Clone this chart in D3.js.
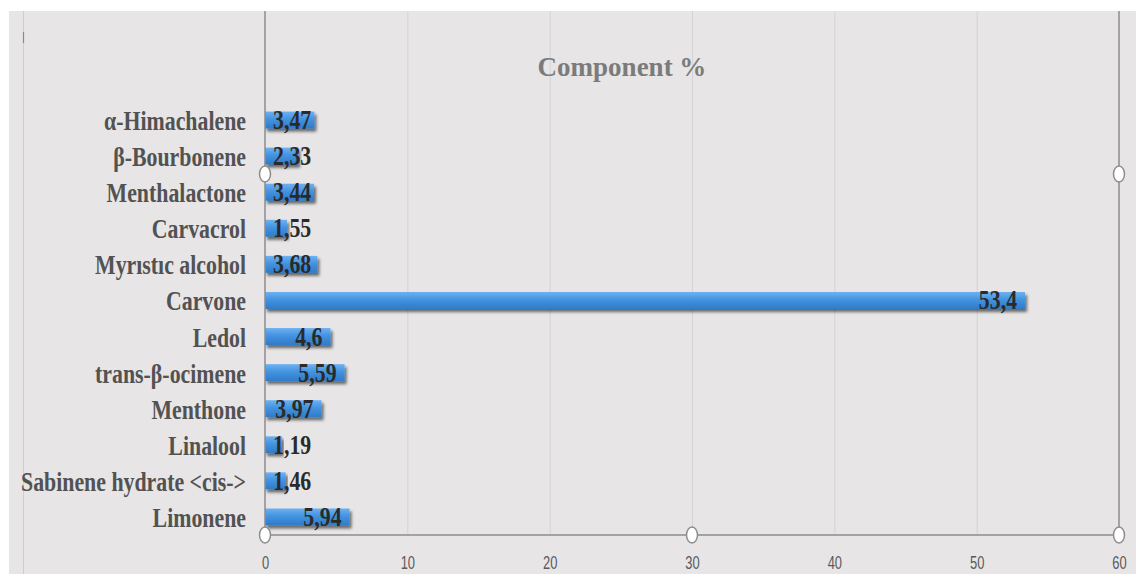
<!DOCTYPE html>
<html>
<head>
<meta charset="utf-8">
<script src="https://cdn.jsdelivr.net/npm/d3@7"></script>
<style>
  html, body { margin: 0; padding: 0; background: #ffffff; }
  svg { display: block; }
</style>
</head>
<body>
<svg id="chart" width="1136" height="574"></svg>
<script>
// ---- data (top to bottom as shown) ----
const categories = ["α-Himachalene", "β-Bourbonene", "Menthalactone", "Carvacrol", "Myrıstıc alcohol", "Carvone", "Ledol", "trans-β-ocimene", "Menthone", "Linalool", "Sabinene hydrate <cis->", "Limonene"];
const values = [3.47, 2.33, 3.44, 1.55, 3.68, 53.4, 4.6, 5.59, 3.97, 1.19, 1.46, 5.94];
const xTicks = [0, 10, 20, 30, 40, 50, 60];
const title = "Component %";

const rows = categories.map((c, i) => ({ name: c, value: values[i] }));

const svg = d3.select("#chart");
const W = 1136, H = 574;

// background
svg.append("rect").attr("x", 0).attr("y", 0).attr("width", W).attr("height", H).attr("fill", "#ffffff");
svg.append("rect").attr("x", 9).attr("y", 11).attr("width", W - 9).attr("height", H - 11).attr("fill", "#e7e5e6");
// faint left border line
svg.append("line").attr("x1", 23.5).attr("x2", 23.5).attr("y1", 11).attr("y2", H).attr("stroke", "#cfcdce").attr("stroke-width", 1);
svg.append("line").attr("x1", 23.5).attr("x2", 23.5).attr("y1", 32).attr("y2", 43).attr("stroke", "#8a8a8a").attr("stroke-width", 1.2);

const plotTop = 11, plotBottom = 535, left = 265, right = 1119;

const x = d3.scaleLinear().domain([0, 60]).range([left, right]);
const y = d3.scaleBand().domain(categories).range([102, plotBottom]).paddingInner(0.5).paddingOuter(0.25);

const defs = svg.append("defs");
const grad = defs.append("linearGradient").attr("id", "barGrad").attr("x1", 0).attr("y1", 0).attr("x2", 0).attr("y2", 1);
grad.append("stop").attr("offset", "0%").attr("stop-color", "#6fb1f0");
grad.append("stop").attr("offset", "45%").attr("stop-color", "#4393e0");
grad.append("stop").attr("offset", "100%").attr("stop-color", "#2f7bc8");
const f = defs.append("filter").attr("id", "shadow").attr("x", "-5%").attr("y", "-50%").attr("width", "115%").attr("height", "220%");
f.append("feDropShadow").attr("dx", 2).attr("dy", 3).attr("stdDeviation", 1.8).attr("flood-color", "#000").attr("flood-opacity", 0.55);

// gridlines
svg.append("g").selectAll("line").data(xTicks.filter(t => t > 0 && t < 60)).join("line")
  .attr("x1", d => x(d) + 0.5).attr("x2", d => x(d) + 0.5)
  .attr("y1", plotTop).attr("y2", plotBottom)
  .attr("stroke", "#d5d3d4").attr("stroke-width", 1);

// title
svg.append("text").attr("x", 622).attr("y", 76).attr("text-anchor", "middle")
  .attr("font-family", "'Liberation Serif', 'Times New Roman', serif").attr("font-weight", "bold")
  .attr("font-size", 27).attr("fill", "#7b7b7b").text(title);

// bars
const bh = 17;
svg.append("g").selectAll("rect").data(rows).join("rect")
  .attr("x", x(0))
  .attr("y", d => y(d.name) + y.bandwidth() / 2 - bh / 2)
  .attr("width", d => x(d.value) - x(0))
  .attr("height", bh)
  .attr("fill", "url(#barGrad)")
  .attr("filter", "url(#shadow)");

// axis lines
svg.append("line").attr("x1", left).attr("x2", left).attr("y1", plotTop).attr("y2", plotBottom).attr("stroke", "#8d8d8d").attr("stroke-width", 1.5);
svg.append("line").attr("x1", right).attr("x2", right).attr("y1", plotTop).attr("y2", plotBottom).attr("stroke", "#8d8d8d").attr("stroke-width", 1.5);
svg.append("line").attr("x1", left).attr("x2", right).attr("y1", plotBottom).attr("y2", plotBottom).attr("stroke", "#8d8d8d").attr("stroke-width", 1.5);

// x tick labels via axis
const xAxis = d3.axisBottom(x).tickValues(xTicks).tickSize(0).tickPadding(0).tickFormat(d3.format("d"));
const gx = svg.append("g").attr("transform", `translate(0,${plotBottom})`).call(xAxis);
gx.select(".domain").remove();
gx.selectAll("text")
  .attr("y", 0).attr("dy", 0)
  .attr("font-family", "'Liberation Sans Narrow', 'Liberation Sans', Arial, sans-serif")
  .attr("font-size", 19).attr("fill", "#5a5a5a")
  .attr("transform", "translate(0,34) scale(0.68,1)");

// category labels
const fs = 28, sx = 0.78;
svg.append("g").selectAll("text").data(rows).join("text")
  .attr("text-anchor", "end")
  .attr("transform", d => `translate(246,${y(d.name) + y.bandwidth() / 2 + 10}) scale(${sx},1)`)
  .attr("font-family", "'Liberation Serif', 'Times New Roman', serif").attr("font-weight", "bold")
  .attr("font-size", fs).attr("fill", "#525252")
  .text(d => d.name);

// data labels
const lbl = svg.append("g").selectAll("text").data(rows).join("text")
  .attr("text-anchor", "end")
  .attr("font-family", "'Liberation Serif', 'Times New Roman', serif").attr("font-weight", "bold")
  .attr("font-size", fs).attr("fill", "#2a2a2a")
  .text(d => String(d.value).replace(".", ","));
lbl.each(function(d) {
  const w = this.getComputedTextLength() * sx;
  const endX = Math.max(x(d.value) - 8, x(0) + 8 + w);
  d3.select(this).attr("transform", `translate(${endX},${y(d.name) + y.bandwidth() / 2 + 9}) scale(${sx},1)`);
});

// selection handles
const handles = [[left, 174], [right, 174], [left, plotBottom], [(left + right) / 2, plotBottom], [right, plotBottom]];
svg.append("g").selectAll("ellipse").data(handles).join("ellipse")
  .attr("cx", d => d[0]).attr("cy", d => d[1]).attr("rx", 5.5).attr("ry", 8)
  .attr("fill", "#ffffff").attr("stroke", "#8d8d8d").attr("stroke-width", 1.5);
</script>
</body>
</html>
